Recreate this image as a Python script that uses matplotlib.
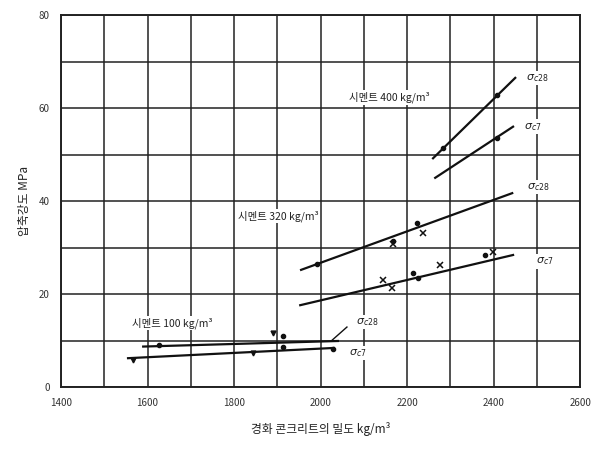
"""Compressive strength vs hardened concrete density, three cement contents."""

import matplotlib

matplotlib.use("Agg")
import matplotlib.pyplot as plt
import numpy as np

plt.rcParams["font.family"] = ["Noto Sans CJK KR", "DejaVu Sans"]

# fitted lines: (x0, x1), (y0, y1) per cement content and age
C400_28_X = [2260, 2450]
C400_28_Y = [49.2, 66.5]
C400_7_X = [2265, 2445]
C400_7_Y = [45.0, 56.0]
C320_28_X = [1955, 2443]
C320_28_Y = [25.2, 41.7]
C320_7_X = [1953, 2445]
C320_7_Y = [17.6, 28.4]
C100_28_X = [1590, 2040]
C100_28_Y = [8.7, 9.9]
C100_7_X = [1555, 2030]
C100_7_Y = [6.2, 8.4]

# measured points
DOT_X = [2283, 2408, 2408, 1992, 2168, 2223, 2214, 2225, 2380, 1627, 1913, 1913, 2029]
DOT_Y = [51.4, 62.8, 53.5, 26.5, 31.5, 35.3, 24.5, 23.4, 28.4, 9.0, 11.0, 8.6, 8.2]
CROSS_X = [2168, 2237, 2145, 2165, 2276, 2399]
CROSS_Y = [30.8, 33.1, 23.0, 21.3, 26.2, 29.0]
TRI_X = [1566, 1844, 1890]
TRI_Y = [5.8, 7.3, 11.6]

X_TICKS = [1400, 1600, 1800, 2000, 2200, 2400, 2600]
Y_TICKS = [0, 20, 40, 60, 80]

fig = plt.figure(figsize=(5.95, 4.58), dpi=100)
ax = fig.add_axes([0.1025, 0.155, 0.8725, 0.812])
ax.set_xlim(1400, 2600)
ax.set_ylim(0, 80)

for gx in np.arange(1400, 2601, 100):
    ax.axvline(gx, color="#222222", linewidth=1.1, zorder=1)
for gy in np.arange(0, 81, 10):
    ax.axhline(gy, color="#222222", linewidth=1.1, zorder=1)
for spine in ax.spines.values():
    spine.set_color("#222222")
    spine.set_linewidth(1.4)

line_kw = dict(color="#111111", linewidth=1.6, zorder=3)
for xs, ys in [
    (C400_28_X, C400_28_Y), (C400_7_X, C400_7_Y),
    (C320_28_X, C320_28_Y), (C320_7_X, C320_7_Y),
    (C100_28_X, C100_28_Y), (C100_7_X, C100_7_Y),
]:
    ax.plot(xs, ys, **line_kw)

ax.plot(DOT_X, DOT_Y, "o", color="#111111", markersize=3, zorder=4)
ax.plot(CROSS_X, CROSS_Y, "x", color="#111111", markersize=4.5, mew=1.1, zorder=4)
ax.plot(TRI_X, TRI_Y, "v", color="#111111", markersize=3.5, zorder=4)

box = dict(facecolor="white", edgecolor="none", pad=1.0)
txt_kw = dict(fontsize=7.5, color="#222222", ha="center", va="center", bbox=box, zorder=5)
ax.text(2160, 62.3, "시멘트 400 kg/m³", **txt_kw)
ax.text(1902, 36.8, "시멘트 320 kg/m³", **txt_kw)
ax.text(1657, 13.8, "시멘트 100 kg/m³", **txt_kw)

sig_kw = dict(fontsize=8, color="#222222", ha="center", va="center", bbox=box, zorder=5)
ax.text(2500, 66.5, r"$\sigma_{c28}$", **sig_kw)
ax.text(2491, 56.0, r"$\sigma_{c7}$", **sig_kw)
ax.text(2503, 43.0, r"$\sigma_{c28}$", **sig_kw)
ax.text(2519, 27.0, r"$\sigma_{c7}$", **sig_kw)
ax.text(2107, 14.0, r"$\sigma_{c28}$", **sig_kw)
ax.text(2085, 7.3, r"$\sigma_{c7}$", **sig_kw)
ax.plot([2027, 2061], [10.1, 12.9], color="#111111", linewidth=1.0, zorder=3)

ax.set_xticks(X_TICKS)
ax.set_yticks(Y_TICKS)
ax.tick_params(length=0, labelsize=7, colors="#333333", pad=8)
ax.set_xlabel("경화 콘크리트의 밀도 kg/m³", fontsize=8.5, color="#222222", labelpad=10)
ax.set_ylabel("압축강도 MPa", fontsize=8.5, color="#222222", labelpad=6)

fig.savefig("out.png", dpi=100, facecolor="white")
